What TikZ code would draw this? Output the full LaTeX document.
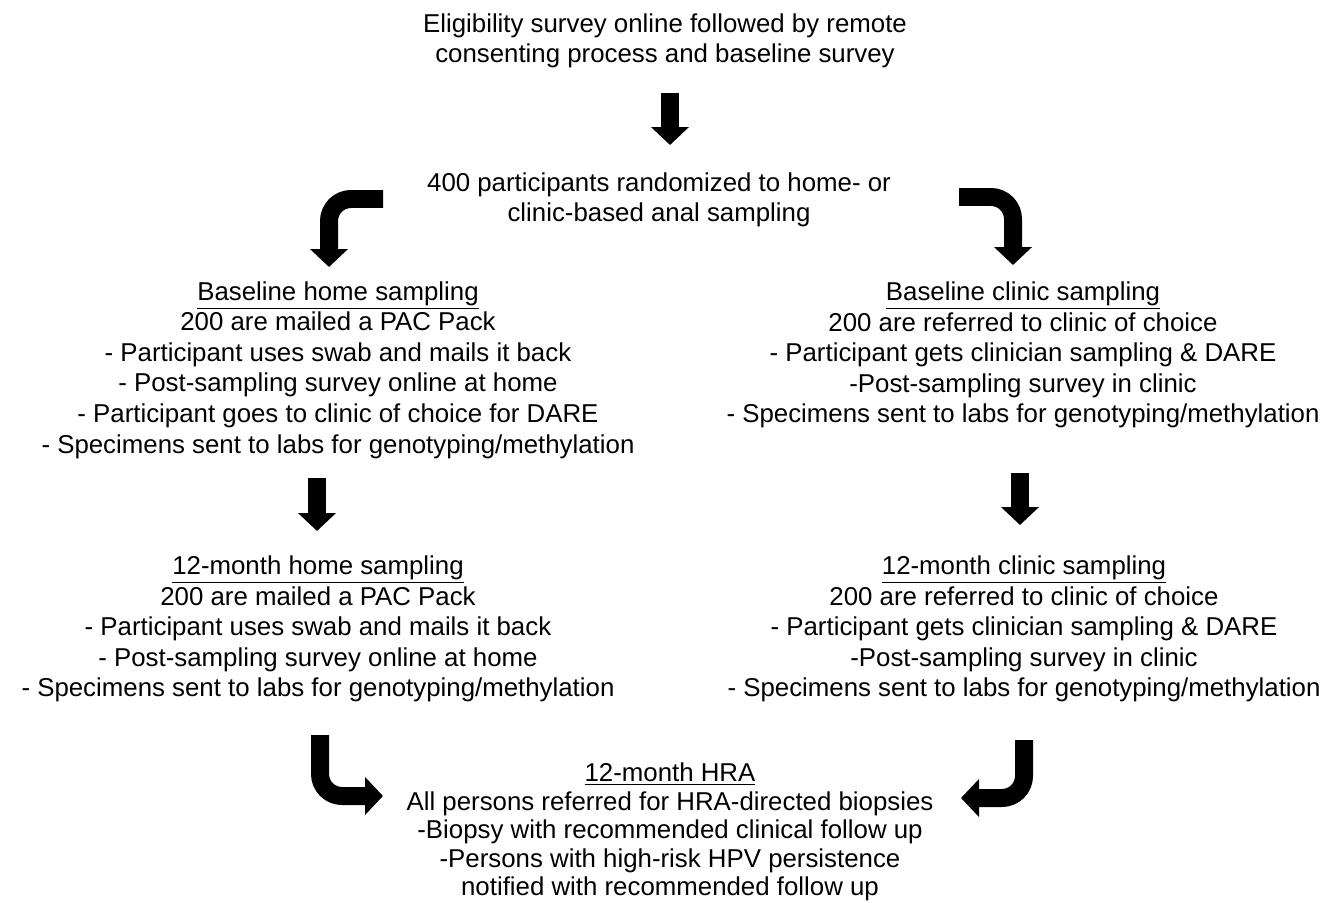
\documentclass[tikz,border=0pt]{standalone}
\usepackage{fontspec}
\setmainfont{Liberation Sans}
\usetikzlibrary{arrows.meta}
\begin{document}
\begin{tikzpicture}[x=0.02cm,y=-0.02cm,line join=round,
	txt/.style={align=center,inner sep=0pt,font=\fontsize{14.7}{17.4}\selectfont},
	blockarr/.style={line width=0.36cm,rounded corners=0.44cm,-{Triangle[width=0.74cm,length=0.36cm]}}]
	
	\useasboundingbox (0,0) rectangle (1331,902);
	\node[txt] (elig) at (665,41) {Eligibility survey online followed by remote\\consenting process and baseline survey};
	\node[txt] (rand) at (659,200) {400 participants randomized to home- or\\clinic-based anal sampling};
	\node[txt] (bhome) at (338,370) {\underline{Baseline home sampling}\\200 are mailed a PAC Pack\\- Participant uses swab and mails it back\\- Post-sampling survey online at home\\- Participant goes to clinic of choice for DARE\\- Specimens sent to labs for genotyping/methylation};
	\node[txt] (bclin) at (1023,355) {\underline{Baseline clinic sampling}\\200 are referred to clinic of choice\\- Participant gets clinician sampling \& DARE\\-Post-sampling survey in clinic\\- Specimens sent to labs for genotyping/methylation};
	\node[txt] (mhome) at (318,629) {\underline{12-month home sampling}\\200 are mailed a PAC Pack\\- Participant uses swab and mails it back\\- Post-sampling survey online at home\\- Specimens sent to labs for genotyping/methylation};
	\node[txt] (mclin) at (1024,629) {\underline{12-month clinic sampling}\\200 are referred to clinic of choice\\- Participant gets clinician sampling \& DARE\\-Post-sampling survey in clinic\\- Specimens sent to labs for genotyping/methylation};
	\node[txt,font=\fontsize{14.7}{16.3}\selectfont] (hra) at (670,832) {\underline{12-month HRA}\\All persons referred for HRA-directed biopsies\\-Biopsy with recommended clinical follow up\\-Persons with high-risk HPV persistence\\notified with recommended follow up};
	
	% ends of the block arrows
	\coordinate (a1) at (670,93);   \coordinate (a2) at (670,145);
	\coordinate (l1) at (383,199);  \coordinate (l2) at (329,199);  \coordinate (l3) at (329,267);
	\coordinate (r1) at (959,197);  \coordinate (r2) at (1013,197); \coordinate (r3) at (1013,265);
	\coordinate (hl1) at (317,478); \coordinate (hl2) at (317,531);
	\coordinate (cl1) at (1020,473);\coordinate (cl2) at (1020,525);
	\coordinate (bl1) at (320,735); \coordinate (bl2) at (320,796); \coordinate (bl3) at (383,796);
	\coordinate (br1) at (1024,740);\coordinate (br2) at (1024,798);\coordinate (br3) at (961,798);
	
	\draw[blockarr] (a1)--(a2);
	\draw[blockarr] (l1)--(l2)--(l3);
	\draw[blockarr] (r1)--(r2)--(r3);
	\draw[blockarr] (hl1)--(hl2);
	\draw[blockarr] (cl1)--(cl2);
	\draw[blockarr] (bl1)--(bl2)--(bl3);
	\draw[blockarr] (br1)--(br2)--(br3);
\end{tikzpicture}
\end{document}
